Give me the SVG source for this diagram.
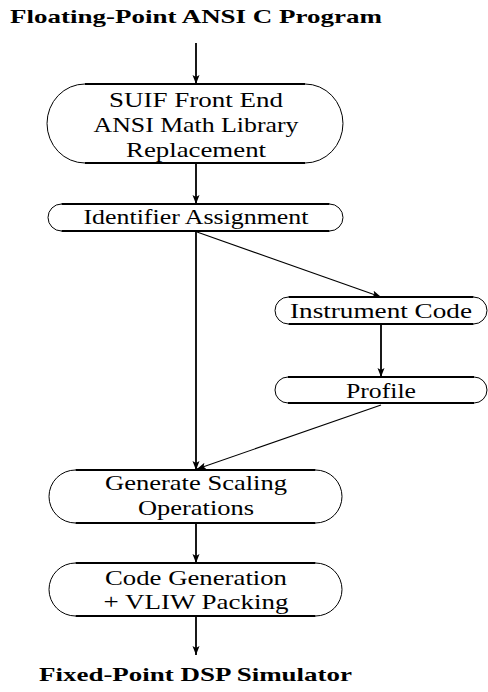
<svg xmlns="http://www.w3.org/2000/svg" width="488" height="692" viewBox="0 0 488 692">
<defs>
<marker id="ah" markerUnits="userSpaceOnUse" markerWidth="10" markerHeight="8" refX="9" refY="3.5" orient="auto">
<path d="M0,0 L9,3.5 L0,7 L2,3.5 Z" fill="#000"/>
</marker>
</defs>
<style>
.t{font-family:"Liberation Serif","Times New Roman",serif;font-size:21px;fill:#000;text-anchor:middle}
.b{font-family:"Liberation Serif","Times New Roman",serif;font-size:19px;font-weight:bold;fill:#000}
.edge{stroke:#000;stroke-width:1.8;fill:none}
.arc{stroke:#000;stroke-width:1;fill:none}
.c{stroke:#000;stroke-width:1.8;fill:none}
.d{stroke:#000;stroke-width:1.1;fill:none}
</style>
<rect width="488" height="692" fill="#fff"/>
<text class="b" x="10" y="23" textLength="372" lengthAdjust="spacingAndGlyphs">Floating-Point ANSI C Program</text>
<text class="b" x="39" y="681" textLength="313" lengthAdjust="spacingAndGlyphs">Fixed-Point DSP Simulator</text>
<g id="connectors">
<line class="c" x1="196" y1="43" x2="196" y2="84" marker-end="url(#ah)"/>
<line class="c" x1="196" y1="163" x2="196" y2="204" marker-end="url(#ah)"/>
<line class="c" x1="196" y1="231" x2="196" y2="470" marker-end="url(#ah)"/>
<line class="d" x1="197" y1="232" x2="381" y2="297" marker-end="url(#ah)"/>
<line class="c" x1="381" y1="324" x2="381" y2="377" marker-end="url(#ah)"/>
<line class="d" x1="381" y1="405" x2="197" y2="469" marker-end="url(#ah)"/>
<line class="c" x1="196" y1="523" x2="196" y2="563" marker-end="url(#ah)"/>
<line class="c" x1="196" y1="616" x2="196" y2="655" marker-end="url(#ah)"/>
</g>
<g id="suif">
<path class="edge" d="M85,84 H305 M85,163 H305"/>
<path class="arc" d="M305,84 A38,39.5 0 0 1 305,163 M85,84 A38,39.5 0 0 0 85,163"/>
<text class="t" x="196" y="106.5" textLength="174" lengthAdjust="spacingAndGlyphs">SUIF Front End</text>
<text class="t" x="196" y="131.5" textLength="205" lengthAdjust="spacingAndGlyphs">ANSI Math Library</text>
<text class="t" x="196" y="157" textLength="140" lengthAdjust="spacingAndGlyphs">Replacement</text>
</g>
<g id="identifier">
<path class="edge" d="M61.5,204 H329.5 M61.5,231 H329.5"/>
<path class="arc" d="M329.5,204 A13.5,13.5 0 0 1 329.5,231 M61.5,204 A13.5,13.5 0 0 0 61.5,231"/>
<text class="t" x="196" y="223.5" textLength="225" lengthAdjust="spacingAndGlyphs">Identifier Assignment</text>
</g>
<g id="instrument">
<path class="edge" d="M288.5,297 H473.5 M288.5,324 H473.5"/>
<path class="arc" d="M473.5,297 A13.5,13.5 0 0 1 473.5,324 M288.5,297 A13.5,13.5 0 0 0 288.5,324"/>
<text class="t" x="381" y="318" textLength="182" lengthAdjust="spacingAndGlyphs">Instrument Code</text>
</g>
<g id="profile">
<path class="edge" d="M288,377 H474 M288,403 H474"/>
<path class="arc" d="M474,377 A13,13 0 0 1 474,403 M288,377 A13,13 0 0 0 288,403"/>
<text class="t" x="381" y="398" textLength="70" lengthAdjust="spacingAndGlyphs">Profile</text>
</g>
<g id="generate">
<path class="edge" d="M75.5,470 H315.5 M75.5,523 H315.5"/>
<path class="arc" d="M315.5,470 A26.5,26.5 0 0 1 315.5,523 M75.5,470 A26.5,26.5 0 0 0 75.5,523"/>
<text class="t" x="196" y="490" textLength="182" lengthAdjust="spacingAndGlyphs">Generate Scaling</text>
<text class="t" x="196" y="515" textLength="116" lengthAdjust="spacingAndGlyphs">Operations</text>
</g>
<g id="codegen">
<path class="edge" d="M75.5,563 H315.5 M75.5,616 H315.5"/>
<path class="arc" d="M315.5,563 A26.5,26.5 0 0 1 315.5,616 M75.5,563 A26.5,26.5 0 0 0 75.5,616"/>
<text class="t" x="196" y="585" textLength="182" lengthAdjust="spacingAndGlyphs">Code Generation</text>
<text class="t" x="196" y="609" textLength="185" lengthAdjust="spacingAndGlyphs">+ VLIW Packing</text>
</g>
</svg>
